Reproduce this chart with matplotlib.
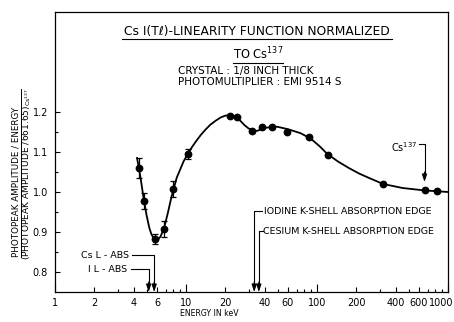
import matplotlib
matplotlib.use("Agg")
import matplotlib.pyplot as plt
from matplotlib.lines import Line2D
from matplotlib.ticker import FixedLocator, NullFormatter
from matplotlib.transforms import ScaledTranslation

# Measured photopeak amplitude / energy, normalised to Cs-137 (661.65 keV)
energy_kev = [4.38, 4.78, 5.8, 6.8, 7.95, 10.4, 21.7, 24.5, 32.0, 38.0,
              45.0, 59.0, 87.0, 121.0, 319.0, 661.65, 824.0]
amplitude_ratio = [1.06, 0.978, 0.882, 0.907, 1.007, 1.095, 1.19, 1.187,
                   1.152, 1.162, 1.162, 1.15, 1.1375, 1.0925, 1.02, 1.005, 1.002]
ratio_err = [0.025, 0.02, 0.012, 0.02, 0.02, 0.012, 0, 0,
             0, 0, 0, 0, 0, 0, 0, 0, 0]

# Hand-drawn fitted curve
curve_kev = [4.23, 4.5, 4.78, 5.0, 5.25, 5.45, 5.75, 6.05, 6.4, 6.8, 7.25,
             7.75, 8.5, 9.6, 10.4, 11.2, 12.0, 13.0, 14.0, 15.3, 16.8, 18.3,
             20.0, 21.5, 23.0, 24.5, 26.0, 28.0, 30.0, 33.0, 35.0, 37.0,
             40.0, 45.0, 50.0, 60.0, 75.0, 90.0, 105.0, 120.0, 145.0, 175.0,
             210.0, 250.0, 320.0, 450.0, 660.0, 1000.0]
curve_ratio = [1.085, 1.035, 0.978, 0.942, 0.91, 0.894, 0.881, 0.879, 0.889,
               0.91, 0.946, 0.988, 1.036, 1.077, 1.097, 1.114, 1.128, 1.143,
               1.155, 1.168, 1.178, 1.186, 1.191, 1.192, 1.19, 1.185, 1.178,
               1.167, 1.159, 1.153, 1.153, 1.156, 1.16, 1.163, 1.163, 1.157,
               1.147, 1.133, 1.114, 1.095, 1.076, 1.06, 1.046, 1.035, 1.02,
               1.01, 1.004, 1.0]

xtick_vals = [1, 2, 4, 6, 10, 20, 40, 60, 100, 200, 400, 600, 1000]
xtick_labels = ["1", "2", "4", "6", "10", "20", "40", "60", "100", "200",
                "400", "600", "1000"]
xminor_vals = [3, 5, 7, 8, 9, 30, 50, 70, 80, 90, 300, 500, 700, 800, 900]
ytick_vals = [0.8, 0.9, 1.0, 1.1, 1.2]
ytick_labels = ["0.8", "0.9", "1.0", "1.1", "1.2"]
yminor_vals = [0.85, 0.95, 1.05, 1.15]

# Absorption edges (keV)
cs_l_edge = 5.714
i_l_edge = 5.188
i_k_edge = 33.17
cs_k_edge = 35.98
cs137_line = 661.65

W, H = 454, 322
plt.rcParams["font.family"] = "DejaVu Sans"

fig = plt.figure(figsize=(W / 100, H / 100), dpi=100)
fig.patch.set_facecolor("white")


def fx(px):
    return px / W


def fy(py):
    return 1 - py / H


ax = fig.add_axes([fx(55), fy(292), (448 - 55) / W, (292 - 12) / H])
ax.set_xscale("log")
ax.set_xlim(1, 1000)
ax.set_ylim(0.75, 1.45)
for sp in ax.spines.values():
    sp.set_linewidth(0.9)

# curve and measured points
ax.plot(curve_kev, curve_ratio, color="k", lw=1.3, solid_joinstyle="round")
ax.errorbar(energy_kev, amplitude_ratio, yerr=ratio_err, fmt="o", color="k",
            ms=4.6, capsize=2, elinewidth=0.9, capthick=0.9)

# ticks
ax.xaxis.set_major_locator(FixedLocator(xtick_vals))
ax.set_xticklabels(xtick_labels)
ax.xaxis.set_minor_locator(FixedLocator(xminor_vals))
ax.xaxis.set_minor_formatter(NullFormatter())
ax.yaxis.set_major_locator(FixedLocator(ytick_vals))
ax.set_yticklabels(ytick_labels)
ax.yaxis.set_minor_locator(FixedLocator(yminor_vals))
ax.tick_params(axis="x", which="major", direction="in", length=3.8, width=0.8,
               pad=4, labelsize=7)
ax.tick_params(axis="x", which="minor", direction="in", length=2, width=0.8)
ax.tick_params(axis="y", which="major", direction="in", length=3.5, width=0.8,
               pad=5, labelsize=7)
ax.tick_params(axis="y", which="minor", direction="in", length=2.2, width=0.8)
for t, v in zip(ax.xaxis.get_major_ticks(), xtick_vals):
    if v in (1, 10, 100, 1000):
        t.tick1line.set_markersize(6)
last = ax.get_xticklabels()[-1]
last.set_horizontalalignment("right")
last.set_transform(last.get_transform()
                   + ScaledTranslation(5 / 100, 0, fig.dpi_scale_trans))


# absorption edge markers
def edge(e, y, x_from, label, text_x, ha):
    ax.plot([x_from, e, e], [y, y, 0.765], color="k", lw=0.8)
    ax.annotate("", xy=(e, 0.75), xytext=(e, 0.775),
                arrowprops=dict(arrowstyle="-|>,head_length=0.45,head_width=0.15",
                                color="k", lw=0.8, shrinkA=0, shrinkB=0))
    ax.text(text_x, y, label, ha=ha, va="center", fontsize=6.8)


edge(cs_l_edge, 0.8425, 3.88, "Cs L - ABS", 3.68, "right")
edge(i_l_edge, 0.8075, 3.81, "I L - ABS", 3.55, "right")
edge(i_k_edge, 0.9525, 37.7, "IODINE K-SHELL ABSORPTION EDGE", 39.6, "left")
edge(cs_k_edge, 0.9025, 38.5, "CESIUM K-SHELL ABSORPTION EDGE", 38.9, "left")

# Cs-137 reference
ax.plot([600, cs137_line, cs137_line], [1.12, 1.12, 1.04], color="k", lw=0.8)
ax.annotate("", xy=(cs137_line, 1.025), xytext=(cs137_line, 1.05),
            arrowprops=dict(arrowstyle="-|>,head_length=0.45,head_width=0.15",
                            color="k", lw=0.8, shrinkA=0, shrinkB=0))
ax.text(589, 1.113, r"Cs$^{137}$", ha="right", va="center", fontsize=7)

# headings
fig.text(fx(257), fy(32), "Cs I(Tℓ)-LINEARITY FUNCTION NORMALIZED",
         ha="center", va="center", fontsize=8.8)
fig.add_artist(Line2D([fx(122), fx(392)], [fy(39), fy(39)], color="k", lw=0.8))
fig.text(fx(258), fy(54), r"TO Cs$^{137}$", ha="center", va="center", fontsize=8.3)
fig.add_artist(Line2D([fx(233), fx(283)], [fy(63), fy(63)], color="k", lw=0.8))
fig.text(fx(178), fy(71), "CRYSTAL : 1/8 INCH THICK", ha="left", va="center",
         fontsize=7.5)
fig.text(fx(178), fy(82), "PHOTOMULTIPLIER : EMI 9514 S", ha="left",
         va="center", fontsize=7.5)

# axis titles
fig.text(fx(209), fy(313), "ENERGY IN keV", ha="center", va="center", fontsize=5.6)
fig.text(fx(16), fy(257), "PHOTOPEAK AMPLITUDE / ENERGY", rotation=90,
         ha="center", va="bottom", fontsize=6.3)
fig.add_artist(Line2D([fx(21), fx(21)], [fy(257), fy(89)], color="k", lw=0.7))
fig.text(fx(27), fy(260),
         r"(PHOTOPEAK AMPLITUDE /661.65)$_{\mathregular{Cs}^{137}}$",
         rotation=90, ha="center", va="bottom", fontsize=6.5)

fig.savefig("out.png", dpi=100, facecolor="white")
